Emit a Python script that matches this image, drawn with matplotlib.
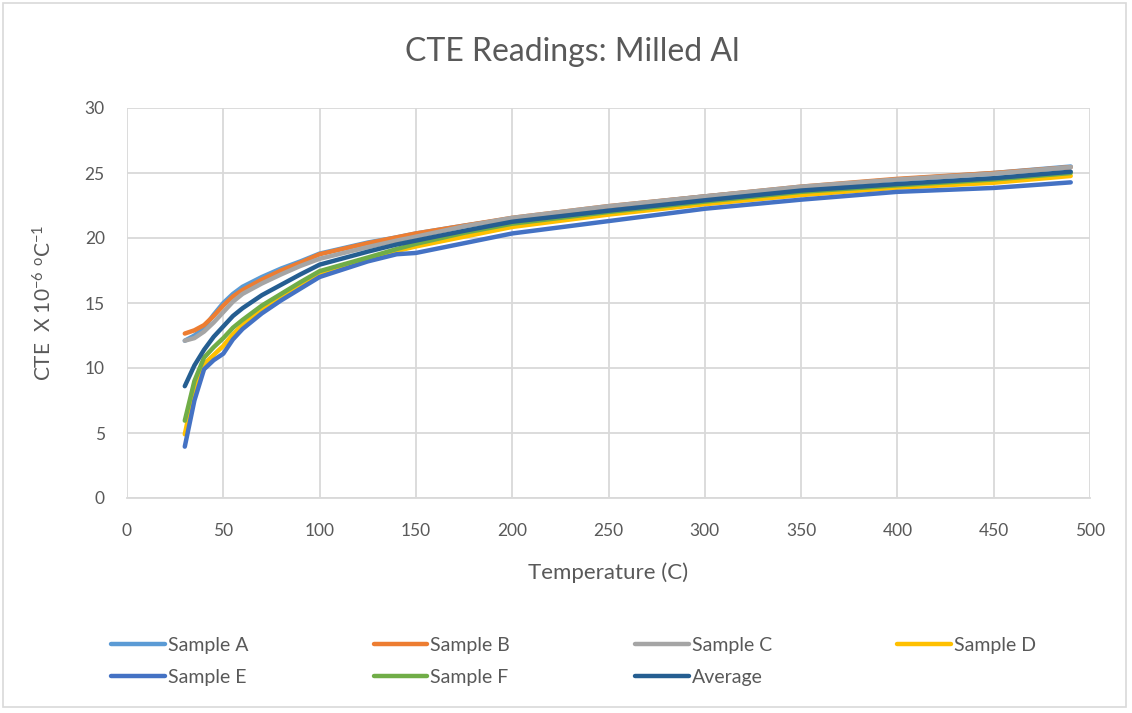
import matplotlib
matplotlib.use("Agg")
import matplotlib.pyplot as plt
from matplotlib.patches import Rectangle

plt.rcParams['font.family'] = ['Lato', 'DejaVu Sans']
plt.rcParams['mathtext.fontset'] = 'custom'
plt.rcParams['mathtext.rm'] = 'Lato'
plt.rcParams['mathtext.it'] = 'Lato'

temperature = [30, 35, 40, 45, 50, 55, 60, 70, 80, 90, 100, 125, 140, 150, 175, 200, 250, 300, 350, 400, 450, 490]

sample_a = [12.1, 12.5, 13.1, 14.1, 15.0, 15.7, 16.25, 17.0, 17.65, 18.2, 18.8, 19.65, 20.05, 20.35, 20.95, 21.5, 22.4, 23.2, 23.9, 24.5, 25.0, 25.5]
sample_b = [12.65, 12.9, 13.3, 14.0, 14.8, 15.5, 16.0, 16.8, 17.5, 18.1, 18.75, 19.6, 20.05, 20.35, 20.95, 21.55, 22.45, 23.2, 23.95, 24.55, 25.0, 25.45]
sample_c = [12.1, 12.3, 12.8, 13.5, 14.3, 15.1, 15.7, 16.5, 17.2, 17.85, 18.4, 19.3, 19.8, 20.1, 20.9, 21.55, 22.45, 23.2, 23.95, 24.5, 24.95, 25.45]
sample_d = [4.9, 8.4, 10.3, 11.0, 11.7, 12.6, 13.3, 14.5, 15.5, 16.4, 17.2, 18.4, 19.0, 19.35, 20.1, 20.85, 21.8, 22.6, 23.3, 23.87, 24.25, 24.77]
sample_e = [3.95, 7.5, 9.9, 10.6, 11.1, 12.2, 13.0, 14.2, 15.2, 16.1, 17.0, 18.2, 18.75, 18.85, 19.6, 20.35, 21.3, 22.25, 22.95, 23.55, 23.85, 24.28]
sample_f = [5.95, 9.0, 10.8, 11.6, 12.3, 13.1, 13.7, 14.8, 15.7, 16.6, 17.45, 18.5, 19.15, 19.55, 20.4, 21.1, 22.0, 22.8, 23.55, 24.05, 24.5, 25.0]
average = [8.6, 10.2, 11.4, 12.4, 13.2, 14.0, 14.6, 15.6, 16.4, 17.2, 17.95, 18.95, 19.5, 19.8, 20.55, 21.25, 22.1, 22.9, 23.65, 24.15, 24.6, 25.1]

series_names = ['Sample A', 'Sample B', 'Sample C', 'Sample D', 'Sample E', 'Sample F', 'Average']
series_values = [sample_a, sample_b, sample_c, sample_d, sample_e, sample_f, average]
colors = ['#5B9BD5', '#ED7D31', '#A5A5A5', '#FFC000', '#4472C4', '#70AD47', '#255E91']

x_ticks = [0, 50, 100, 150, 200, 250, 300, 350, 400, 450, 500]
y_ticks = [0, 5, 10, 15, 20, 25, 30]

fig = plt.figure(figsize=(11.32, 7.13), dpi=100)
fig.patches.append(Rectangle((3 / 1132, 6 / 713), 1 - 9 / 1132, 1 - 9 / 713, transform=fig.transFigure,
                             fill=False, edgecolor='#d9d9d9', linewidth=1.2))
ax = fig.add_axes([127 / 1132, 1 - 498 / 713, (1090 - 127) / 1132, (498 - 108) / 713])

handles = []
for name, vals, c in zip(series_names, series_values, colors):
    h, = ax.plot(temperature, vals, color=c, lw=3.2, label=name, solid_capstyle='round', solid_joinstyle='round')
    handles.append(h)

ax.set_xlim(0, 500)
ax.set_ylim(0, 30)
ax.set_xticks(x_ticks)
ax.set_yticks(y_ticks)
ax.grid(True, color='#d9d9d9', lw=1.3)
ax.set_axisbelow(True)
for s in ['top', 'right', 'left']:
    ax.spines[s].set_visible(False)
ax.spines['bottom'].set_color('#d9d9d9')
ax.spines['bottom'].set_linewidth(1.3)
ax.tick_params(length=0, labelsize=12.5, labelcolor='#595959')
ax.tick_params(axis='x', pad=18)
ax.tick_params(axis='y', pad=16)

ax.set_xlabel('Temperature (C)', fontsize=16, color='#595959', labelpad=17)
ax.set_ylabel(r'CTE  X 10$^{-6}$ $^{\mathrm{o}}$C$^{-1}$', fontsize=15, color='#595959', labelpad=21)
fig.text(572 / 1132, 1 - 52 / 713, 'CTE Readings: Milled Al', ha='center', va='center',
         fontsize=23, color='#595959')

order = [0, 4, 1, 5, 2, 6, 3]
leg = fig.legend([handles[i] for i in order], [series_names[i] for i in order], ncol=4,
                 loc='upper left', bbox_to_anchor=(94 / 1132, 1 - 619 / 713),
                 frameon=False, fontsize=14, handlelength=2.75, handletextpad=0.15,
                 columnspacing=6.45, labelspacing=0.78)
for t in leg.get_texts():
    t.set_color('#595959')

fig.savefig('out.png', dpi=100)
